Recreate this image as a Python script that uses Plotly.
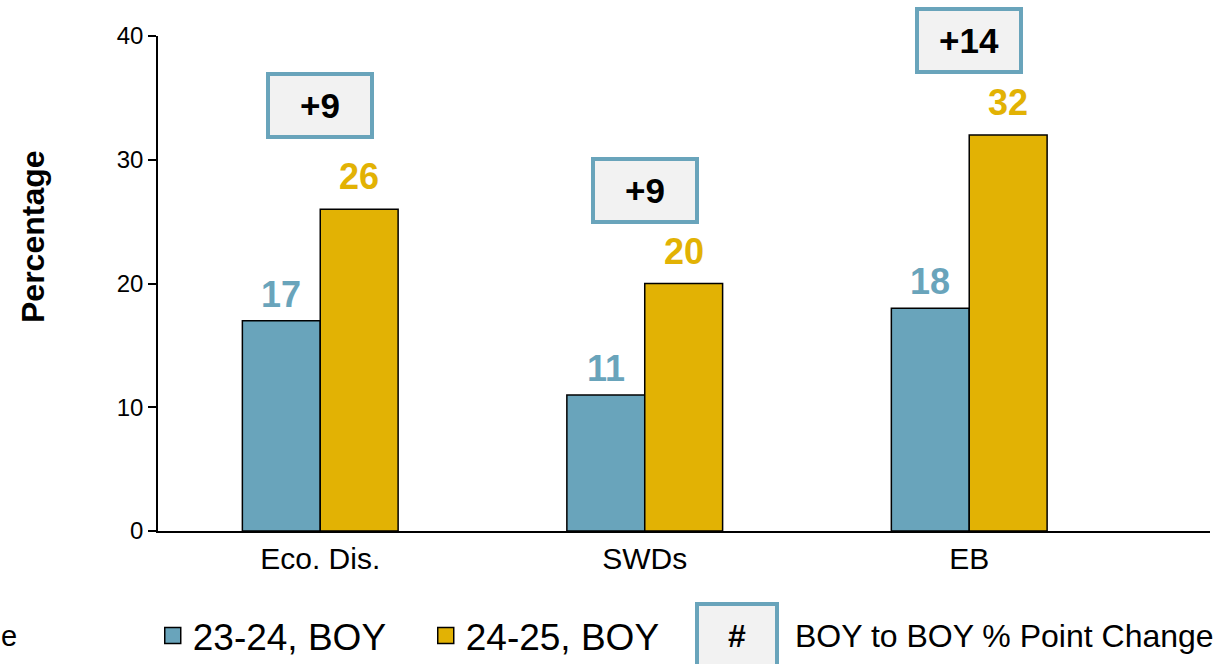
import plotly.graph_objects as go

categories = ["Eco. Dis.", "SWDs", "EB"]
series_names = ["23-24, BOY", "24-25, BOY"]
values_2324 = [17, 11, 18]
values_2425 = [26, 20, 32]
changes = ["+9", "+9", "+14"]
change_box_y = [34.4, 27.5, 39.6]
y_ticks = [0, 10, 20, 30, 40]

BLUE = "#69A4BB"
GOLD = "#E2B204"
FONT = "Liberation Sans, Arial, sans-serif"

BAR_OFFSET_PX = 38.9
series = [
    (series_names[0], values_2324, BLUE, -BAR_OFFSET_PX, 4),
    (series_names[1], values_2425, GOLD, BAR_OFFSET_PX, 10),
]

fig = go.Figure()
for name, vals, col, xs, ys in series:
    fig.add_trace(go.Bar(
        x=categories, y=vals, name=name, showlegend=False,
        marker=dict(color=col, line=dict(color="black", width=1.5)),
        cliponaxis=False,
    ))
    # legend entry with a larger square swatch
    fig.add_trace(go.Scatter(
        x=[None], y=[None], mode="markers", name=name, showlegend=True,
        marker=dict(symbol="square", size=16, color=col, line=dict(color="black", width=1.5)),
    ))
    for cat, v in zip(categories, vals):
        fig.add_annotation(
            x=cat, y=v, xref="x", yref="y", text="<b>%d</b>" % v, showarrow=False,
            font=dict(family=FONT, size=36, color=col),
            xanchor="center", yanchor="bottom", xshift=xs, yshift=ys,
        )

for cat, ch, yy in zip(categories, changes, change_box_y):
    fig.add_annotation(
        x=cat, y=yy, xref="x", yref="y", text="<b>" + ch + "</b>", showarrow=False,
        font=dict(family=FONT, size=35, color="black"),
        bgcolor="#F2F2F2", bordercolor=BLUE, borderwidth=4, borderpad=2,
        width=96, height=55, xanchor="center", yanchor="middle",
    )

# y-axis title (placed above centre, as in the reference)
fig.add_annotation(
    x=-0.1188, y=0.594, xref="paper", yref="paper", text="<b>Percentage</b>",
    showarrow=False, textangle=-90, font=dict(family=FONT, size=32, color="black"),
    xanchor="center", yanchor="middle",
)

# legend extra: "#" box and description
fig.add_annotation(
    x=0.5504, y=-0.212, xref="paper", yref="paper", text="<b>#</b>", showarrow=False,
    font=dict(family=FONT, size=32, color="black"),
    bgcolor="#F2F2F2", bordercolor=BLUE, borderwidth=4, borderpad=2,
    width=72, height=55, xanchor="center", yanchor="middle",
)
fig.add_annotation(
    x=0.6036, y=-0.212, xref="paper", yref="paper", text="BOY to BOY % Point Change",
    showarrow=False, font=dict(family=FONT, size=32, color="black"),
    xanchor="left", yanchor="middle",
)
fig.add_annotation(
    x=-0.132, y=-0.212, xref="paper", yref="paper", text="e",
    showarrow=False, font=dict(family=FONT, size=29, color="black"),
    xanchor="right", yanchor="middle",
)

fig.update_layout(
    width=1226, height=664,
    margin=dict(l=158, r=16, t=36, b=133, autoexpand=False),
    paper_bgcolor="white", plot_bgcolor="white",
    barmode="group", bargap=0.52, bargroupgap=0,
    font=dict(family=FONT, color="black"),
    showlegend=True,
    legend=dict(orientation="h", x=-0.005, y=-0.212, xanchor="left", yanchor="middle",
                font=dict(family=FONT, size=37, color="black"),
                entrywidth=228, entrywidthmode="pixels", bgcolor="rgba(0,0,0,0)"),
    xaxis=dict(range=[-0.5, 2.742], showline=True, linecolor="black", linewidth=1.5,
               ticks="", tickfont=dict(family=FONT, size=30, color="black"), showgrid=False,
               fixedrange=True, automargin=False),
    yaxis=dict(range=[0, 40], tickvals=y_ticks, showline=True, linecolor="black", linewidth=1.5,
               ticks="outside", ticklen=8, tickcolor="black", tickwidth=1.5,
               tickfont=dict(family=FONT, size=24, color="black"), showgrid=False, zeroline=False,
               automargin=False),
)

fig.write_html(
    "out.html",
    config={"displayModeBar": False},
    post_script="document.body.style.margin='0';document.body.style.overflow='hidden';",
)
